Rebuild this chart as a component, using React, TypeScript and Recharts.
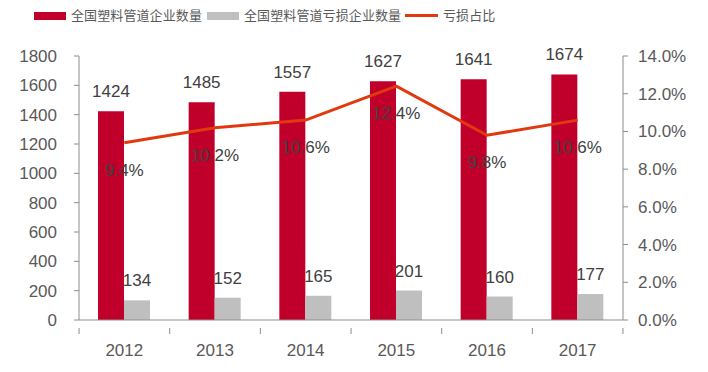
import React from "react";
import { ComposedChart, Bar, Line, XAxis, YAxis, LabelList } from "recharts";

const years = ["2012", "2013", "2014", "2015", "2016", "2017"];
const totalCompanies = [1424, 1485, 1557, 1627, 1641, 1674];
const lossCompanies = [134, 152, 165, 201, 160, 177];
const lossRatio = [9.4, 10.2, 10.6, 12.4, 9.8, 10.6];
const leftTicks = [0, 200, 400, 600, 800, 1000, 1200, 1400, 1600, 1800];
const rightTicks = [0, 2, 4, 6, 8, 10, 12, 14];
const seriesNames = ["全国塑料管道企业数量", "全国塑料管道亏损企业数量", "亏损占比"];

const data = years.map((y, i) => ({
  year: y,
  total: totalCompanies[i],
  loss: lossCompanies[i],
  ratio: lossRatio[i],
}));

const RED = "#C0002B";
const GRAY = "#BFBFBF";
const LINE = "#E2380F";
const TEXT = "#595959";
const AXIS = "#8C8C8C";
const FONT = "'Liberation Sans', Arial, sans-serif";

const XTick = (props: any) => {
  const { x, y, payload, index } = props;
  const half = 45.3;
  return (
    <g>
      <line x1={x - half} y1={y} x2={x - half} y2={y + 6} stroke={AXIS} strokeWidth={1} />
      {index === years.length - 1 && (
        <line x1={x + half} y1={y} x2={x + half} y2={y + 6} stroke={AXIS} strokeWidth={1} />
      )}
      <text x={x} y={y + 28} textAnchor="middle" fill={TEXT} fontSize={17} fontFamily={FONT}>
        {payload.value}
      </text>
    </g>
  );
};

const RatioLabel = (props: any) => {
  const { x, y, value } = props;
  return (
    <text x={x} y={y + 33} textAnchor="middle" fill="#404040" fontSize={17} fontFamily={FONT}>
      {Number(value).toFixed(1) + "%"}
    </text>
  );
};

const LegendBar = () => {
  const txt: React.CSSProperties = {
    position: "absolute",
    top: 5,
    fontSize: 13,
    letterSpacing: 0.1,
    color: TEXT,
    fontFamily: "'Noto Sans CJK SC', sans-serif",
    lineHeight: "20px",
    whiteSpace: "nowrap",
  };
  return (
    <>
      <div style={{ position: "absolute", left: 34, top: 12, width: 32, height: 8, background: RED }} />
      <div style={{ ...txt, left: 71 }}>{seriesNames[0]}</div>
      <div style={{ position: "absolute", left: 207, top: 12, width: 32, height: 8, background: GRAY }} />
      <div style={{ ...txt, left: 244 }}>{seriesNames[1]}</div>
      <div style={{ position: "absolute", left: 405, top: 14, width: 33, height: 3, background: LINE }} />
      <div style={{ ...txt, left: 443 }}>{seriesNames[2]}</div>
    </>
  );
};

export default function App() {
  return (
    <div style={{ position: "fixed", left: 0, top: 0, width: 708, height: 372, background: "#fff" }}>
      <LegendBar />
      <ComposedChart
        width={708}
        height={372}
        data={data}
        margin={{ top: 56, right: 0, bottom: 0, left: 0 }}
        barGap={0}
      >
        <XAxis
          dataKey="year"
          height={52}
          axisLine={{ stroke: AXIS }}
          tickLine={false}
          tick={<XTick />}
          interval={0}
        />
        <YAxis
          yAxisId="left"
          width={79}
          domain={[0, 1800]}
          ticks={leftTicks}
          interval={0}
          axisLine={{ stroke: AXIS }}
          tickLine={{ stroke: AXIS }}
          tickSize={5}
          tickMargin={17}
          tick={{ fill: TEXT, fontSize: 17, fontFamily: FONT }}
        />
        <YAxis
          yAxisId="right"
          orientation="right"
          width={85}
          domain={[0, 14]}
          ticks={rightTicks}
          interval={0}
          axisLine={{ stroke: AXIS }}
          tickLine={{ stroke: AXIS }}
          tickSize={5}
          tickMargin={10}
          tickFormatter={(v: number) => v.toFixed(1) + "%"}
          tick={{ fill: TEXT, fontSize: 17, fontFamily: FONT }}
        />
        <Bar yAxisId="left" dataKey="total" fill={RED} barSize={26} isAnimationActive={false}>
          <LabelList
            dataKey="total"
            position="top"
            offset={14}
            fill="#404040"
            fontSize={17}
            fontFamily={FONT}
          />
        </Bar>
        <Bar yAxisId="left" dataKey="loss" fill={GRAY} barSize={26} isAnimationActive={false}>
          <LabelList
            dataKey="loss"
            position="top"
            offset={14}
            fill="#404040"
            fontSize={17}
            fontFamily={FONT}
          />
        </Bar>
        <Line
          yAxisId="right"
          dataKey="ratio"
          stroke={LINE}
          strokeWidth={3}
          dot={false}
          activeDot={false}
          isAnimationActive={false}
        >
          <LabelList dataKey="ratio" content={<RatioLabel />} />
        </Line>
      </ComposedChart>
    </div>
  );
}
